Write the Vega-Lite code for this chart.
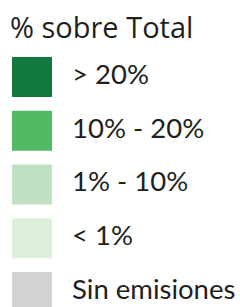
{
  "$schema": "https://vega.github.io/schema/vega-lite/v6.json",
  "width": 240,
  "height": 257,
  "autosize": "none",
  "padding": {"top": 50, "left": 0, "right": 0, "bottom": 0},
  "background": "white",
  "title": {"text": "% sobre Total", "anchor": "start", "frame": "group", "dx": 10, "offset": 6, "fontSize": 29, "font": "Open Sans", "fontWeight": "normal", "color": "#231f20"},
  "config": {"view": {"stroke": null}},
  "data": {"values": [
    {"cat": "> 20%", "color": "#127a3e"},
    {"cat": "10% -  20%", "color": "#52b963"},
    {"cat": "1% -  10%", "color": "#bfe0c1"},
    {"cat": "< 1%", "color": "#dcefdb"},
    {"cat": "Sin emisiones", "color": "#d1d2d4"}
  ]},
  "encoding": {
    "y": {"field": "cat", "type": "ordinal", "sort": null, "axis": null,
          "scale": {"type": "point", "padding": 0.39, "align": 0.643}}
  },
  "layer": [
    {"mark": {"type": "point", "shape": "square", "filled": true, "size": 1600, "opacity": 1, "strokeWidth": 0},
     "encoding": {"x": {"value": 32}, "color": {"field": "color", "type": "nominal", "scale": null}}},
    {"mark": {"type": "text", "align": "left", "baseline": "middle", "font": "Lato", "fontSize": 27.5, "color": "#231f20", "dy": -1},
     "encoding": {"x": {"value": 72}, "text": {"field": "cat"}}}
  ]
}
